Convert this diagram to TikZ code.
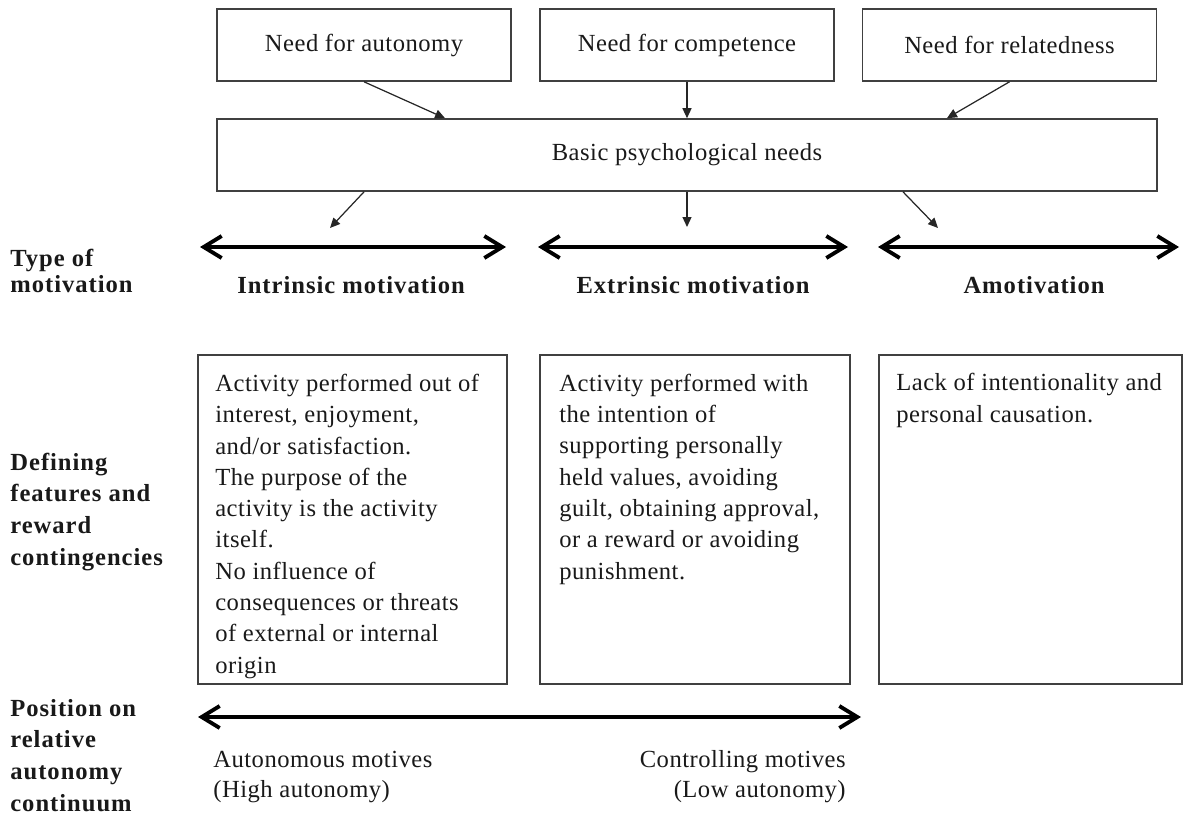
\documentclass[tikz,border=0pt]{standalone}
\usepackage{fontspec}
\setmainfont{Liberation Serif}[LetterSpace=2, BoldFeatures={LetterSpace=4}]
\usetikzlibrary{arrows.meta}
\tikzset{
	needbox/.style={draw=black!75, line width=0.9pt, minimum width=5.88cm, minimum height=1.44cm, inner sep=0pt},
	descbox/.style={draw=black!75, line width=0.9pt, anchor=north west, minimum height=6.58cm, inner sep=0pt},
	desctext/.style={anchor=base west, align=left, inner sep=0pt, font=\fontsize{14}{17.8}\selectfont},
	sidelabel/.style={anchor=base west, align=left, inner sep=0pt, font=\fontsize{14}{18}\selectfont\bfseries},
	typelabel/.style={anchor=base, inner sep=0pt, font=\fontsize{14}{17}\selectfont\bfseries},
	needarrow/.style={-{Triangle[length=2mm,width=1.8mm]}, line width=0.7pt, draw=black!85},
	motarrow/.style={{Straight Barb[length=3.6mm,width=4.4mm]}-{Straight Barb[length=3.6mm,width=4.4mm]}, line width=2.2pt}
}

\begin{document}
\begin{tikzpicture}[x=0.02cm, y=-0.02cm, font=\fontsize{14}{17}\selectfont, text=black!90]
	% page 1183 x 815 px
	\useasboundingbox (0,0) rectangle (1183,815);
	
	% needs
	\node[needbox] (aut) at (364,45) {Need for autonomy};
	\node[needbox] (comp) at (687,45) {Need for competence};
	\node[needbox] (rel) at (1009.5,45) {Need for relatedness};
	\node[needbox, minimum width=18.8cm] (basic) at (687,155) {Basic psychological needs};
	
	\draw[needarrow] (aut.south) -- ([xshift=-4.84cm]basic.north);
	\draw[needarrow] (comp.south) -- (basic.north);
	\draw[needarrow] (rel.south) -- ([xshift=5.2cm]basic.north);
	
	\coordinate (tipint) at (330,228);
	\coordinate (tipext) at (687,227);
	\coordinate (tipamo) at (938,228);
	\draw[needarrow] ([xshift=-6.46cm]basic.south) -- (tipint);
	\draw[needarrow] (basic.south) -- (tipext);
	\draw[needarrow] ([xshift=4.32cm]basic.south) -- (tipamo);
	
	% type of motivation
	\coordinate (intL) at (200,247);
	\coordinate (intR) at (506,247);
	\coordinate (extL) at (538,247);
	\coordinate (extR) at (848,247);
	\coordinate (amoL) at (878,247);
	\coordinate (amoR) at (1179,247);
	\draw[motarrow] (intL) -- (intR);
	\draw[motarrow] (extL) -- (extR);
	\draw[motarrow] (amoL) -- (amoR);
	
	% multi-line nodes: base = last line
	\node[sidelabel] (typelbl) at (10,292) {Type of\\[-3.5pt]motivation};
	\node[typelabel] (intlbl) at (351,293) {Intrinsic motivation};
	\node[typelabel] (extlbl) at (693,293) {Extrinsic motivation};
	\node[typelabel] (amolbl) at (1034,293) {Amotivation};
	
	% defining features
	\node[sidelabel] (featlbl) at (10,565) {Defining\\features and\\reward\\contingencies};
	
	\node[descbox, minimum width=6.18cm] (defint) at (197,354) {};
	\node[descbox, minimum width=6.2cm] (defext) at (539,354) {};
	\node[descbox, minimum width=6.06cm] (defamo) at (878,354) {};
	
	\node[desctext] (txtint) at (215,673) {Activity performed out of\\interest, enjoyment,\\and/or satisfaction.\\The purpose of the\\activity is the activity\\itself.\\No influence of\\consequences or threats\\of external or internal\\origin};
	\node[desctext] (txtext) at (559,579) {Activity performed with\\the intention of\\supporting personally\\held values, avoiding\\guilt, obtaining approval,\\or a reward or avoiding\\punishment.};
	\node[desctext] (txtamo) at (896,422) {Lack of intentionality and\\personal causation.};
	
	% autonomy continuum
	\node[sidelabel] (poslbl) at (10,811) {Position on\\relative\\autonomy\\continuum};
	
	\coordinate (autL) at (198,717);
	\coordinate (autR) at (861,717);
	\draw[motarrow] (autL) -- (autR);
	
	\node[desctext, font=\fontsize{14}{17}\selectfont] (highlbl) at (213,797) {Autonomous motives\\(High autonomy)};
	\node[desctext, font=\fontsize{14}{17}\selectfont, anchor=base east, align=right] (lowlbl) at (846,797) {Controlling motives\\(Low autonomy)};
	
\end{tikzpicture}
\end{document}
